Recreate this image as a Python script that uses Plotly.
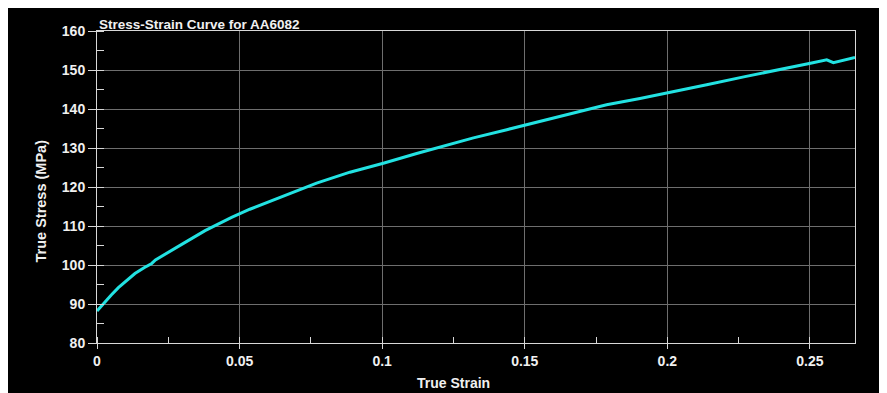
import plotly.graph_objects as go

strain = [0.0, 0.0025, 0.005, 0.0075, 0.01, 0.0133, 0.0165, 0.0192, 0.0205,
          0.025, 0.0309, 0.0379, 0.0472, 0.0536, 0.0589, 0.0653, 0.0733, 0.0770,
          0.0887, 0.1004, 0.1121, 0.1203, 0.1320, 0.1437, 0.1553, 0.1670, 0.1787,
          0.1904, 0.2003, 0.2138, 0.2272, 0.2406, 0.2506, 0.2559, 0.2582, 0.2658]
stress = [88.2, 90.3, 92.3, 94.2, 95.8, 97.8, 99.3, 100.4, 101.3,
          103.3, 105.8, 108.8, 112.2, 114.3, 115.8, 117.6, 120.0, 121.0,
          123.8, 126.1, 128.6, 130.3, 132.6, 134.7, 136.8, 138.9, 141.1,
          142.7, 144.1, 146.2, 148.3, 150.4, 151.8, 152.6, 151.9, 153.2]

x_ticks = [0, 0.05, 0.1, 0.15, 0.2, 0.25]
x_tick_labels = ["0", "0.05", "0.1", "0.15", "0.2", "0.25"]
y_ticks = [80, 90, 100, 110, 120, 130, 140, 150, 160]

title_text = "Stress-Strain Curve for AA6082"
x_title = "True Strain"
y_title = "True Stress (MPa)"

font_family = "Liberation Sans, Arial, sans-serif"
white = "#f0f0f0"
fs = 13.5
tfs = 14

fig = go.Figure()
fig.add_trace(go.Scatter(x=strain, y=stress, mode="lines",
                         line=dict(color="#22e2e2", width=3),
                         showlegend=False))

fig.update_layout(
    width=879, height=385,
    margin=dict(l=89, r=32, t=23, b=50),
    paper_bgcolor="black", plot_bgcolor="black",
    font=dict(family=font_family, color=white, size=fs),
    annotations=[
        dict(text="<b>" + title_text + "</b>", xref="paper", yref="paper",
             x=0, y=1, xanchor="left", yanchor="bottom", showarrow=False,
             font=dict(size=fs, color=white), yshift=-3),
        dict(text="<b>" + x_title + "</b>", xref="paper", yref="paper",
             x=0.4697, y=0, xanchor="center", yanchor="middle", showarrow=False,
             font=dict(size=14, color=white), yshift=-40),
        dict(text="<b>" + y_title + "</b>", xref="paper", yref="paper",
             x=0, y=0.4535, xanchor="center", yanchor="middle", showarrow=False,
             textangle=-90, font=dict(size=14.5, color=white), xshift=-56),
    ],
)

fig.update_xaxes(
    range=[0, 0.2658], tickvals=x_ticks, ticktext=x_tick_labels,
    tickfont=dict(size=tfs, color=white, weight="bold"),
    showgrid=True, gridcolor="#6e6e6e", gridwidth=1,
    showline=True, linecolor="#d8d8d8", linewidth=1, mirror=True,
    ticks="outside", ticklen=5, tickcolor="#d8d8d8",
    minor=dict(dtick=0.025, ticks="inside", ticklen=6, tickcolor="#d8d8d8", showgrid=False),
    zeroline=False,
)
fig.update_yaxes(
    range=[80, 160], tickvals=y_ticks,
    tickfont=dict(size=tfs, color=white, weight="bold"),
    showgrid=True, gridcolor="#6e6e6e", gridwidth=1,
    showline=True, linecolor="#d8d8d8", linewidth=1, mirror=True,
    ticks="outside", ticklen=8, tickcolor="#d8d8d8",
    minor=dict(dtick=5, ticks="inside", ticklen=7, tickcolor="#d8d8d8", showgrid=False),
    zeroline=False,
)

fig.write_html("out.html")
